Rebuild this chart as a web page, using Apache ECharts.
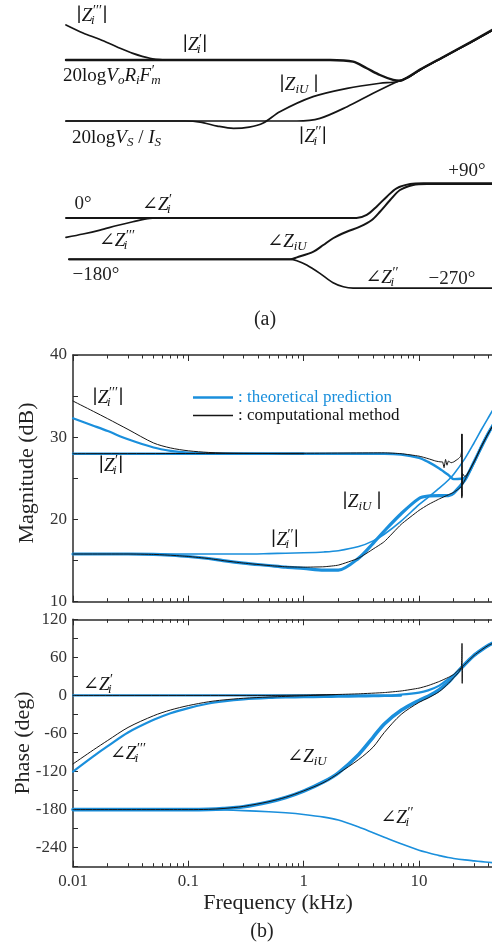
<!DOCTYPE html>
<html>
<head>
<meta charset="utf-8">
<script src="https://cdn.jsdelivr.net/npm/echarts@6/dist/echarts.min.js"></script>
<style>
  html, body { margin: 0; padding: 0; background: #fff; }
  #chart { width: 492px; height: 944px; }
</style>
</head>
<body>
<div id="chart"></div>
<script>
// ---------- Panel (b): measured impedance responses ----------
// Frequency grid in kHz shared by the theoretical curves
const freq = [0.01, 0.015, 0.02, 0.03, 0.05, 0.07, 0.1, 0.15, 0.2, 0.3, 0.5, 0.7, 1, 1.5, 2, 3, 4, 5, 7, 10, 12, 15, 18, 20, 25, 30, 35, 40, 50];

// Magnitude (dB), theoretical prediction
const magZi1Theory = [28, 28, 28, 28, 28, 28, 28, 28, 28, 28, 28, 28, 28, 28, 28, 28, 28, 28, 27.9, 27.5, 27.0, 26.2, 25.4, 24.9, 25.1, 26.9, 29.0, 30.5, 32.8];
const magZiUTheory = [15.8, 15.8, 15.8, 15.8, 15.75, 15.65, 15.5, 15.25, 15.0, 14.7, 14.4, 14.2, 14.05, 13.85, 13.85, 15.3, 17.1, 18.6, 20.7, 22.55, 22.85, 22.9, 22.9, 23.2, 24.8, 27.0, 28.9, 30.5, 32.8];
const magZi2Theory = [15.8, 15.8, 15.8, 15.8, 15.8, 15.8, 15.8, 15.8, 15.8, 15.8, 15.85, 15.9, 15.95, 16.05, 16.2, 16.7, 17.4, 18.2, 19.8, 21.8, 22.7, 23.8, 24.8, 25.5, 27.4, 29.3, 31.0, 32.4, 34.7];
const magZi3Theory = [32.3, 31.4, 30.75, 29.75, 28.75, 28.35, 28.12, 28.04, 28.0, 28.0, 28.0, 28.0, 28.0];

// Magnitude (dB), computational method
const magZi3Comp = [34.4, 33.15, 32.25, 30.95, 29.3, 28.7, 28.35, 28.15, 28.08, 28.04, 28.02, 28.0, 28.0];
const freqMagZi1Comp = [0.01, 1, 5, 7, 10, 12, 14, 15.5, 16, 16.5, 17, 17.5, 18, 19, 20, 21, 22, 23, 23.4, 23.5, 23.6, 23.8, 25, 30, 35, 40, 50];
const magZi1Comp = [28.0, 28.05, 28.1, 28.0, 27.7, 27.4, 27.1, 27.0, 27.0, 26.3, 27.3, 26.6, 27.1, 26.9, 27.0, 27.2, 27.4, 27.7, 28.3, 30.4, 22.8, 25.6, 25.2, 27.0, 29.0, 30.5, 32.8];
const freqMagZiUComp = [0.01, 0.03, 0.05, 0.07, 0.1, 0.15, 0.2, 0.3, 0.5, 0.7, 1, 1.5, 2, 3, 4, 5, 7, 10, 12, 15, 18, 20, 22, 23.3, 23.5, 23.6, 23.8, 25, 30, 35, 40, 50];
const magZiUComp = [15.8, 15.8, 15.75, 15.65, 15.5, 15.25, 15.0, 14.7, 14.4, 14.25, 14.2, 14.25, 14.45, 15.3, 16.4, 17.3, 19.4, 21.1, 21.8, 22.5, 23.0, 23.3, 23.7, 24.0, 22.6, 30.4, 24.2, 24.8, 27.0, 28.9, 30.5, 32.8];

// Phase (deg), theoretical prediction
const phZi1Theory = [0, 0, 0, 0, 0, 0, 0, 0, 0, 0, 0, 0, 0, 0, 0, 0, 0, 0, 1.5, 4.5, 8, 15.5, 26, 32, 49, 63, 72, 79, 87];
const phZiUTheory = [-180, -180, -180, -180, -180, -180, -180, -179.6, -178.5, -175.5, -168, -161, -151, -136, -122, -93, -66, -45, -23.5, -8, -1.5, 9, 21, 30, 49, 63, 72, 79, 87];
const phZi2Theory = [-180, -180, -180, -180, -180, -180, -180, -180.3, -180.7, -181.6, -183.3, -185, -187.6, -191.8, -196.5, -207.5, -216.5, -223.5, -234, -244, -248, -252.5, -255.5, -257, -259.3, -260.8, -262, -263, -264.8];
const phZi3Theory = [-120, -96, -80, -58.5, -38.5, -28, -20, -12.8, -9.5, -6.3, -4.0, -3.2, -2.8, -2.4, -2, -1.5, -1.2, -0.8, -0.3];

// Phase (deg), computational method
const phZi3Comp = [-108, -86, -71, -50.5, -32, -23, -16, -10, -7.2, -4.5, -2.5, -1.5, -0.5, 0.6, 1.5];
const freqPhZi1Comp = [0.01, 0.5, 1, 2, 3, 5, 7, 10, 12, 15, 18, 20, 22, 23.3, 23.6, 23.7, 23.8, 24, 25, 30, 35, 40, 50];
const phZi1Comp = [0, 0, 0.5, 1.5, 2.5, 4.5, 7, 11.5, 15.5, 22, 28.5, 33, 40, 44, 82, 19, 45, 46, 49, 63, 72, 79, 87];
const freqPhZiUComp = [0.01, 0.1, 0.15, 0.2, 0.3, 0.5, 0.7, 1, 1.5, 2, 3, 4, 5, 7, 10, 12, 15, 18, 20, 22, 23.3];
const phZiUComp = [-180, -180, -179.6, -178.3, -175, -167.5, -160.5, -150.5, -137, -123, -101, -81.5, -58.5, -30, -11, -4, 6, 19, 28, 36, 43];

// Axis tick labels
const freqTickLabels = [0.01, 0.1, 1, 10];
const magTickLabels = [10, 20, 30, 40];
const phaseTickLabels = [-240, -180, -120, -60, 0, 60, 120];

// ---------- Panel (a): asymptotic sketch (normalised log-frequency 0..100, level 0..100) ----------
const sketchMagZi1 = [[0, 63.6], [62, 63.6], [67.4, 62.1], [70.6, 56.1], [73.7, 50], [76.8, 45.5], [78.4, 44.8], [80.3, 48.2], [83.1, 54.9], [89, 67.3], [94.8, 79.5], [100, 90.9]];
const sketchMagZi3 = [[0, 95.5], [4, 88.2], [8, 82.3], [12, 75.5], [15.7, 69.7], [19.7, 65.2], [23.2, 63.6]];
const sketchMagZiU = [[0, 8.2], [28, 8.2], [31.5, 7.2], [35.5, 3.6], [39.3, 1.5], [43, 2.6], [46.3, 6.3], [50.2, 16.6], [58, 30.3], [66, 37.9], [73.7, 42.5], [77.7, 43.9], [80.3, 47.8], [83.1, 54.6], [89, 67], [94.8, 79.2], [100, 90.4]];
const sketchMagZi2 = [[0, 8.2], [54.2, 8.2], [59.6, 10.6], [66, 21.2], [72.1, 33.4], [77.7, 43.9], [80.3, 47.8], [83.1, 54.6], [89, 67], [94.8, 79.2], [100, 90.4]];

const sketchPhZi1 = [[0, 63.1], [68.2, 63.1], [70.6, 65.4], [72.9, 71.8], [75.3, 79.5], [77.6, 85.9], [80.8, 89.2], [83.9, 89.8], [100, 89.8]];
const sketchPhZi3 = [[0, 48.2], [4, 50.8], [8, 53.8], [12, 57.3], [15.7, 60.2], [19.7, 62.8], [23.2, 63.1]];
const sketchPhZiU = [[0.7, 31.3], [52.6, 31.3], [54.2, 32.8], [58.1, 37.2], [60.4, 42.3], [62.7, 47.5], [65.9, 52.5], [69, 56.4], [71.8, 61.5], [73.7, 67.9], [76.1, 76.9], [78.4, 84.6], [81.5, 88.5], [84.7, 89.2], [100, 89.2]];
const sketchPhZi2 = [[0.7, 31.3], [52.6, 31.3], [54.2, 30.2], [56.5, 26.9], [59.6, 20.5], [62.7, 13.3], [65.1, 10.2], [67.4, 9.2], [100, 9.2]];

// ---------- styling ----------
const BLUE = '#1a8fdc';
const INK = '#151515';
const AXIS = '#2b2b2b';
const SERIF = "'Liberation Serif', 'DejaVu Serif', serif";
const THEO = ': theoretical prediction';
const COMP = ': computational method';

const minorFreqTicks = [];
for (let d = 0.01; d < 50; d *= 10) {
  for (let k = 2; k <= 9; k++) {
    const v = +(k * d).toPrecision(3);
    if (v <= 50) minorFreqTicks.push(v);
  }
}

function zip(xs, ys) { return ys.map((y, i) => [xs[i], y]); }

function curve(name, data, color, width, xi, yi, z, smooth) {
  return {
    type: 'line', name, data, xAxisIndex: xi, yAxisIndex: yi,
    showSymbol: false, symbol: 'none', smooth: smooth == null ? 0.3 : smooth,
    color, itemStyle: { color }, lineStyle: { color, width, join: 'round', cap: 'round' },
    z: z || 2, silent: true, animation: false
  };
}

// log frequency axes: main (decades) and minor ticks, bottom and top
function freqAxes(gridIndex, showLabels) {
  const base = {
    type: 'log', logBase: 10, min: 0.01, max: 50, gridIndex,
    splitLine: { show: false }, minorTick: { show: false }
  };
  const mk = (position, major) => Object.assign({}, base, {
    position,
    axisLine: { show: major, onZero: false, lineStyle: { color: AXIS, width: 1.5 } },
    axisTick: { show: true, inside: true, length: major ? 6 : 3.5, lineStyle: { color: AXIS, width: 1 },
                customValues: major ? freqTickLabels : minorFreqTicks },
    axisLabel: {
      show: major && showLabels && position === 'bottom',
      customValues: freqTickLabels,
      formatter: v => String(+(+v).toPrecision(6)),
      fontFamily: SERIF, fontSize: 17, color: '#333', margin: 6,
      showMinLabel: true, showMaxLabel: true
    }
  });
  return [mk('bottom', true), mk('bottom', false), mk('top', true), mk('top', false)];
}

function valueAxis(gridIndex, min, max, interval, labelStep) {
  return {
    type: 'value', gridIndex, min, max, interval,
    axisLine: { show: true, onZero: false, lineStyle: { color: AXIS, width: 1.5 } },
    axisTick: { show: true, inside: true, length: 5, lineStyle: { color: AXIS, width: 1 } },
    axisLabel: {
      formatter: v => (v % labelStep === 0 ? String(v) : ''),
      fontFamily: SERIF, fontSize: 17, color: '#333', margin: 6,
      showMinLabel: true, showMaxLabel: true
    },
    splitLine: { show: false }
  };
}

function sketchAxis(gridIndex) {
  return { type: 'value', gridIndex, min: 0, max: 100, show: false, splitLine: { show: false } };
}

// math-style rich text
function richMath(s) {
  const sub = Math.round(s * 0.68);
  return {
    n: { fontFamily: SERIF, fontSize: s, fontStyle: 'normal', fill: INK },
    v: { fontFamily: SERIF, fontSize: s, fontStyle: 'italic', fill: INK },
    sb: { fontFamily: SERIF, fontSize: sub, fontStyle: 'italic', fill: INK, padding: [Math.round(s * 0.55), 0, 0, 0] },
    sk: { fontFamily: SERIF, fontSize: sub, fontStyle: 'italic', fill: INK, width: 0.5, padding: [Math.round(s * 0.55), 0, 0, 0] },
    sp: { fontFamily: SERIF, fontSize: Math.round(s * 0.72), fontStyle: 'normal', fill: INK, padding: [0, 0, Math.round(s * 0.55), 0] }
  };
}

function mathText(x, y, text, size, align) {
  return {
    type: 'text', x, y, silent: true, z: 10,
    style: {
      text, rich: richMath(size), fill: INK,
      font: size + "px " + SERIF,
      textAlign: align || 'center', textVerticalAlign: 'middle'
    }
  };
}

function plainText(x, y, text, size, rotation) {
  return {
    type: 'text', x, y, rotation: rotation || 0, silent: true, z: 10,
    style: { text, fill: '#222', font: size + 'px ' + SERIF, textAlign: 'center', textVerticalAlign: 'middle' }
  };
}

const P1 = '\u2032', P2 = '\u2032\u2032', P3 = '\u2032\u2032\u2032';
const ANG = '\u2220';

const labels = [
  // panel (a), magnitude sketch
  mathText(92, 16, `{v|\u2223Z}{sk|i}{sp|${P3}}{v|\u2223}`, 19),
  mathText(195, 45, `{v|\u2223Z}{sk|i}{sp|${P1}}{v|\u2223}`, 19),
  mathText(63, 76, `{n|20log}{v|V}{sb|o}{v|R}{sb|i}{v|F}{sk|m}{sp|${P1}}`, 19, 'left'),
  mathText(299, 85, `{v|\u2223Z}{sb|iU}{v| \u2223}`, 19),
  mathText(72, 138, `{n|20log}{v|V}{sb|S}{n| / }{v|I}{sb|S}`, 19, 'left'),
  mathText(313, 137, `{v|\u2223Z}{sk|i}{sp|${P2}}{v|\u2223}`, 19),
  // panel (a), phase sketch
  plainText(83, 204, '0\u00b0', 19),
  mathText(157, 205, `{n|${ANG}}{v|Z}{sk|i}{sp|${P1}}`, 19),
  plainText(467, 171, '+90\u00b0', 19),
  mathText(117, 241, `{n|${ANG}}{v|Z}{sk|i}{sp|${P3}}`, 19),
  mathText(287, 242, `{n|${ANG}}{v|Z}{sb|iU}`, 19),
  plainText(96, 275, '\u2212180\u00b0', 19),
  mathText(382, 278, `{n|${ANG}}{v|Z}{sk|i}{sp|${P2}}`, 19),
  plainText(452, 279, '\u2212270\u00b0', 19),
  plainText(265, 320, '(a)', 20),
  // panel (b), magnitude
  mathText(108, 398, `{v|\u2223Z}{sk|i}{sp|${P3}}{v|\u2223}`, 19),
  mathText(111, 466, `{v|\u2223Z}{sk|i}{sp|${P1}}{v|\u2223}`, 19),
  mathText(362, 502, `{v|\u2223Z}{sb|iU}{v| \u2223}`, 19),
  mathText(285, 540, `{v|\u2223Z}{sk|i}{sp|${P2}}{v|\u2223}`, 19),
  // panel (b), phase
  mathText(98, 685, `{n|${ANG}}{v|Z}{sk|i}{sp|${P1}}`, 19),
  mathText(128, 754, `{n|${ANG}}{v|Z}{sk|i}{sp|${P3}}`, 19),
  mathText(307, 757, `{n|${ANG}}{v|Z}{sb|iU}`, 19),
  mathText(397, 818, `{n|${ANG}}{v|Z}{sk|i}{sp|${P2}}`, 19),
  // axis titles
  plainText(27, 473, 'Magnitude (dB)', 22, Math.PI / 2),
  plainText(23, 743, 'Phase (deg)', 22, Math.PI / 2),
  plainText(278, 903, 'Frequency (kHz)', 22),
  plainText(262, 932, '(b)', 20)
];

const xAxes = [sketchAxis(0), sketchAxis(1)]
  .concat(freqAxes(2, false))
  .concat(freqAxes(3, true));
// xAxis indices: 0 sketch-mag, 1 sketch-phase, 2..5 magnitude grid, 6..9 phase grid
const yAxes = [
  sketchAxis(0), sketchAxis(1),
  valueAxis(2, 10, 40, 5, 10),
  valueAxis(3, -270, 120, 30, 60)
];

const sketchW = 1.7;
const series = [
  // panel (a)
  curve('sketch', sketchMagZi1, INK, 2.4, 0, 0, 3),
  curve('sketch', sketchMagZi3, INK, sketchW, 0, 0, 3),
  curve('sketch', sketchMagZiU, INK, sketchW, 0, 0, 3),
  curve('sketch', sketchMagZi2, INK, sketchW, 0, 0, 3),
  curve('sketch', sketchPhZi1, INK, 2, 1, 1, 3),
  curve('sketch', sketchPhZi3, INK, sketchW, 1, 1, 3),
  curve('sketch', sketchPhZiU, INK, 2, 1, 1, 3),
  curve('sketch', sketchPhZi2, INK, sketchW, 1, 1, 3),
  // panel (b) magnitude, theory
  curve(THEO, zip(freq, magZi2Theory), BLUE, 1.6, 2, 2),
  curve(THEO, zip(freq, magZi1Theory), BLUE, 2.4, 2, 2),
  curve(THEO, zip(freq, magZi3Theory), BLUE, 2.2, 2, 2),
  curve(THEO, zip(freq, magZiUTheory), BLUE, 3.2, 2, 2),
  // panel (b) magnitude, computation
  curve(COMP, zip(freq, magZi3Comp), INK, 1, 2, 2, 4),
  curve(COMP, zip(freqMagZi1Comp, magZi1Comp), INK, 1, 2, 2, 4, 0.15),
  curve(COMP, zip(freqMagZiUComp, magZiUComp), INK, 1, 2, 2, 4, 0.15),
  // panel (b) phase, theory
  curve(THEO, zip(freq, phZi2Theory), BLUE, 1.6, 6, 3),
  curve(THEO, zip(freq, phZi1Theory), BLUE, 2.2, 6, 3),
  curve(THEO, zip(freq, phZi3Theory), BLUE, 2.2, 6, 3),
  curve(THEO, zip(freq, phZiUTheory), BLUE, 3.6, 6, 3),
  // panel (b) phase, computation
  curve(COMP, zip(freq, phZi3Comp), INK, 1, 6, 3, 4),
  curve(COMP, zip(freqPhZi1Comp, phZi1Comp), INK, 1, 6, 3, 4, 0.15),
  curve(COMP, zip(freqPhZiUComp, phZiUComp), INK, 1, 6, 3, 4)
];

const chart = echarts.init(document.getElementById('chart'), null, { renderer: 'canvas' });
chart.setOption({
  animation: false,
  backgroundColor: '#fff',
  grid: [
    { left: 66, top: 20, width: 426, height: 110, outerBoundsMode: 'none' },
    { left: 66, top: 170, width: 426, height: 130, outerBoundsMode: 'none' },
    { left: 73, top: 355, width: 426.6, height: 246.7, outerBoundsMode: 'none' },
    { left: 73, top: 619.3, width: 426.6, height: 247.4, outerBoundsMode: 'none' }
  ],
  xAxis: xAxes,
  yAxis: yAxes,
  legend: {
    left: 188, top: 384, orient: 'vertical', selectedMode: false,
    itemWidth: 40, itemHeight: 12, itemGap: 1,
    textStyle: { fontFamily: SERIF, fontSize: 17 },
    data: [
      { name: THEO, icon: 'path://M0 0H40V2.6H0Z', textStyle: { color: BLUE } },
      { name: COMP, icon: 'path://M0 0H40V1.3H0Z', textStyle: { color: INK } }
    ]
  },
  graphic: labels,
  series
});
</script>
</body>
</html>
